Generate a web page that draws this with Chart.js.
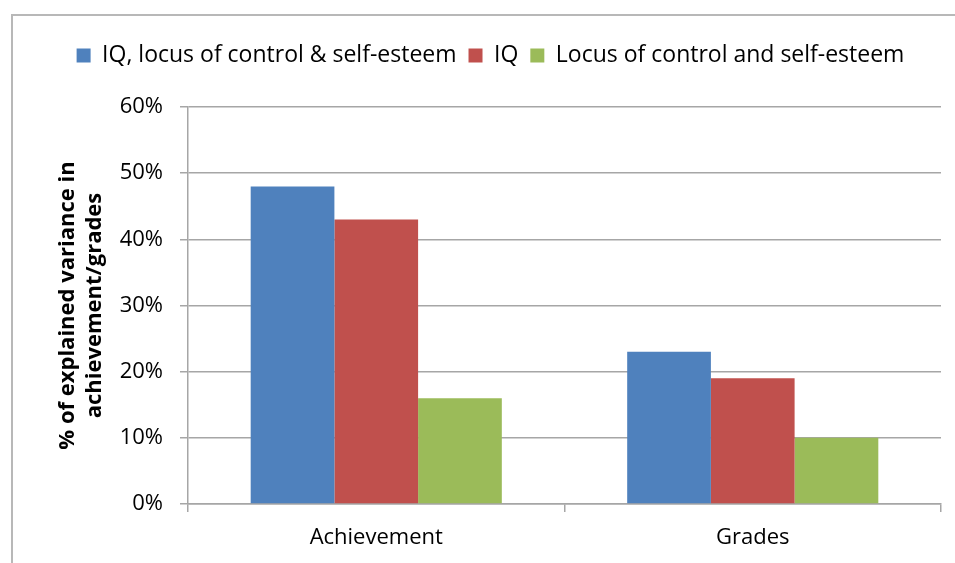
<!DOCTYPE html>
<html>
<head>
<meta charset="utf-8">
<script src="https://cdn.jsdelivr.net/npm/chart.js@4"></script>
<style>
  html, body { margin: 0; padding: 0; background: #fff; overflow: hidden; }
  #wrap { position: relative; width: 955px; height: 563px; }
  #frame { position: absolute; left: 11px; top: 14px; width: 1000px; height: 600px;
           border: 2px solid #B8B8B8; box-sizing: border-box; }
  canvas { position: absolute; left: 0; top: 0; }
</style>
</head>
<body>
<div id="wrap">
  <div id="frame"></div>
  <canvas id="chart" width="955" height="563"></canvas>
</div>
<script>
const categories = ['Achievement', 'Grades'];
const seriesNames = ['IQ, locus of control & self-esteem', 'IQ', 'Locus of control and self-esteem'];
const combined = [48, 23];
const iqOnly = [43, 19];
const locusSelfEsteem = [16, 10];
const yTicks = [0, 10, 20, 30, 40, 50, 60];

const colors = ['#4F81BD', '#C0504D', '#9BBB59'];
const font = "'Open Sans', Calibri, 'Liberation Sans', sans-serif";
const gridColor = '#A6A6A6';

// keep the plot area where the original has it (legend box is taller than its text)
const legendHeight = {
    id: 'legendHeight',
    beforeLayout(chart) {
        const lg = chart.legend;
        if (lg && !lg._fixed) {
            const fit = lg.fit;
            lg.fit = function () { fit.call(this); this.height = 75; };
            lg._fixed = true;
        }
    }
};

const ctx = document.getElementById('chart').getContext('2d');
new Chart(ctx, {
    type: 'bar',
    data: {
        labels: categories,
        datasets: [combined, iqOnly, locusSelfEsteem].map((d, i) => ({
            label: seriesNames[i],
            data: d,
            backgroundColor: colors[i],
            borderWidth: 0,
            categoryPercentage: 0.667,
            barPercentage: 1.0
        }))
    },
    plugins: [legendHeight],
    options: {
        responsive: false,
        animation: false,
        layout: { padding: { left: 40, right: 14, top: 32, bottom: 0 } },
        plugins: {
            legend: {
                position: 'top',
                labels: {
                    color: '#000',
                    font: { family: font, size: 23 },
                    boxWidth: 14,
                    boxHeight: 14,
                    padding: 12
                }
            },
            tooltip: { enabled: false }
        },
        scales: {
            x: {
                afterFit: axis => { axis.height = 59; },
                grid: {
                    drawOnChartArea: false,
                    drawTicks: true,
                    tickLength: 8,
                    color: gridColor,
                    lineWidth: 1.5
                },
                border: { color: gridColor, width: 1.5 },
                ticks: { color: '#000', font: { family: font, size: 22 }, padding: 13 }
            },
            y: {
                min: 0,
                max: 60,
                afterFit: axis => { axis.width = 148; },
                afterBuildTicks: axis => { axis.ticks = yTicks.map(v => ({ value: v })); },
                grid: {
                    color: gridColor,
                    lineWidth: 1.5,
                    tickLength: 8
                },
                border: { color: gridColor, width: 1.5 },
                ticks: {
                    color: '#000',
                    font: { family: font, size: 22 },
                    padding: 17,
                    callback: v => v + '%'
                },
                title: {
                    display: true,
                    text: ['% of explained variance in', 'achievement/grades'],
                    color: '#000',
                    font: { family: font, size: 22, weight: 'bold', lineHeight: 1.2 },
                    padding: { top: 15, bottom: 0 }
                }
            }
        }
    }
});
</script>
</body>
</html>
